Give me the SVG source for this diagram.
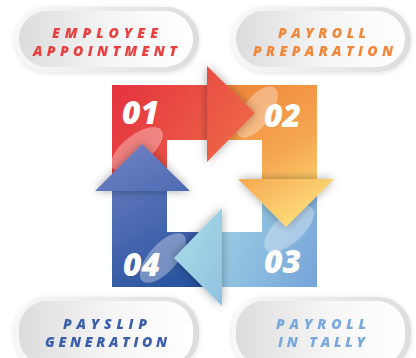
<svg xmlns="http://www.w3.org/2000/svg" width="416" height="358" viewBox="0 0 416 358">
<defs>
<linearGradient id="gRed" gradientUnits="userSpaceOnUse" x1="112" y1="85" x2="255" y2="162"><stop offset="0" stop-color="#e4323f"/><stop offset="1" stop-color="#ef6e48"/></linearGradient>
<linearGradient id="gOrange" gradientUnits="userSpaceOnUse" x1="230" y1="90" x2="310" y2="225"><stop offset="0" stop-color="#ef883c"/><stop offset="0.5" stop-color="#f5a650"/><stop offset="1" stop-color="#fee27d"/></linearGradient>
<linearGradient id="gLight" gradientUnits="userSpaceOnUse" x1="180" y1="225" x2="317" y2="287"><stop offset="0" stop-color="#a7dbe6"/><stop offset="1" stop-color="#76a3d9"/></linearGradient>
<linearGradient id="gDark" gradientUnits="userSpaceOnUse" x1="125" y1="150" x2="200" y2="287"><stop offset="0" stop-color="#6b7ec1"/><stop offset="1" stop-color="#23509c"/></linearGradient>
<linearGradient id="ring" x1="0" y1="0" x2="1" y2="0"><stop offset="0" stop-color="#f8f8f8"/><stop offset="1" stop-color="#dddddd"/></linearGradient>
<linearGradient id="pill" x1="0" y1="0" x2="1" y2="0"><stop offset="0" stop-color="#dcdcde"/><stop offset="0.55" stop-color="#f6f6f6"/><stop offset="1" stop-color="#ffffff"/></linearGradient>
<filter id="sh" x="-30%" y="-30%" width="160%" height="160%"><feDropShadow dx="0" dy="0" stdDeviation="5" flood-color="#000" flood-opacity="0.35"/></filter>
<filter id="psh" x="-20%" y="-30%" width="140%" height="160%"><feDropShadow dx="0" dy="1" stdDeviation="2.5" flood-color="#000" flood-opacity="0.12"/></filter>
<style>
.lbl{font-family:"Open Sans","Liberation Sans",sans-serif;font-weight:800;font-style:italic;font-size:14px;text-anchor:middle}
.num{font-family:"Open Sans","Liberation Sans",sans-serif;font-weight:800;font-style:italic;font-size:32px;fill:#ffffff}
.hl{fill:#ffffff;fill-opacity:0.33}
</style>
</defs>

<g id="bodies">
<polygon points="112,85 207,85 207,140 167,140 167,191 112,191" fill="url(#gRed)"/>
<polygon points="207,85 317,85 317,179 262,179 262,140 207,140" fill="url(#gOrange)"/>
<polygon points="262,179 317,179 317,287 222,287 222,232 262,232" fill="url(#gLight)"/>
<polygon points="112,191 167,191 167,232 222,232 222,287 112,287" fill="url(#gDark)"/>
</g>

<g id="highlights">
<ellipse class="hl" cx="257" cy="112" rx="30" ry="14" transform="rotate(-55 257 112)"/>
<ellipse class="hl" cx="289" cy="229" rx="31" ry="14" transform="rotate(-42 289 229)"/>
<ellipse class="hl" cx="163" cy="258" rx="31" ry="14" transform="rotate(-48 163 258)"/>
<ellipse class="hl" cx="137" cy="149" rx="31" ry="14" transform="rotate(-38 137 149)"/>
</g>

<g id="connectors">
<polygon points="207,66 255,113 207,162" fill="url(#gRed)" filter="url(#sh)"/>
<polygon points="238,179 334,179 286,227" fill="url(#gOrange)" filter="url(#sh)"/>
<polygon points="222,208 174,258 222,306" fill="url(#gLight)" filter="url(#sh)"/>
<polygon points="95,191 142,144 190,191" fill="url(#gDark)" filter="url(#sh)"/>
</g>

<g id="n01"><text class="num" x="122" y="124">01</text></g>
<g id="n02"><text class="num" x="264" y="127">02</text></g>
<g id="n03"><text class="num" x="264" y="273">03</text></g>
<g id="n04"><text class="num" x="123" y="276">04</text></g>

<g id="pill1" filter="url(#psh)">
<rect x="15" y="7" width="184" height="65" rx="32.5" fill="url(#ring)"/>
<rect x="19" y="11" width="174" height="56" rx="28" fill="url(#pill)"/>
<text class="lbl" x="105" y="38" fill="#e8403f" textLength="106" lengthAdjust="spacing">EMPLOYEE</text>
<text class="lbl" x="105" y="56" fill="#e8403f" textLength="144" lengthAdjust="spacing">APPOINTMENT</text>
</g>
<g id="pill2" filter="url(#psh)">
<rect x="232" y="7" width="179" height="65" rx="32.5" fill="url(#ring)"/>
<rect x="236" y="11" width="169" height="56" rx="28" fill="url(#pill)"/>
<text class="lbl" x="322" y="38" fill="#f0873a" textLength="88" lengthAdjust="spacing">PAYROLL</text>
<text class="lbl" x="323" y="56" fill="#f0873a" textLength="140" lengthAdjust="spacing">PREPARATION</text>
</g>
<g id="pill3" filter="url(#psh)">
<rect x="15" y="297" width="184" height="72" rx="32.5" fill="url(#ring)"/>
<rect x="19" y="301" width="174" height="64" rx="28" fill="url(#pill)"/>
<text class="lbl" x="105" y="329" fill="#3a5ea8" textLength="84" lengthAdjust="spacing">PAYSLIP</text>
<text class="lbl" x="106" y="347" fill="#3a5ea8" textLength="122" lengthAdjust="spacing">GENERATION</text>
</g>
<g id="pill4" filter="url(#psh)">
<rect x="232" y="297" width="179" height="72" rx="32.5" fill="url(#ring)"/>
<rect x="236" y="301" width="169" height="64" rx="28" fill="url(#pill)"/>
<text class="lbl" x="321" y="329" fill="#78a8dc" textLength="90" lengthAdjust="spacing">PAYROLL</text>
<text class="lbl" x="321.5" y="347" fill="#78a8dc" textLength="87" lengthAdjust="spacing">IN TALLY</text>
</g>
</svg>
